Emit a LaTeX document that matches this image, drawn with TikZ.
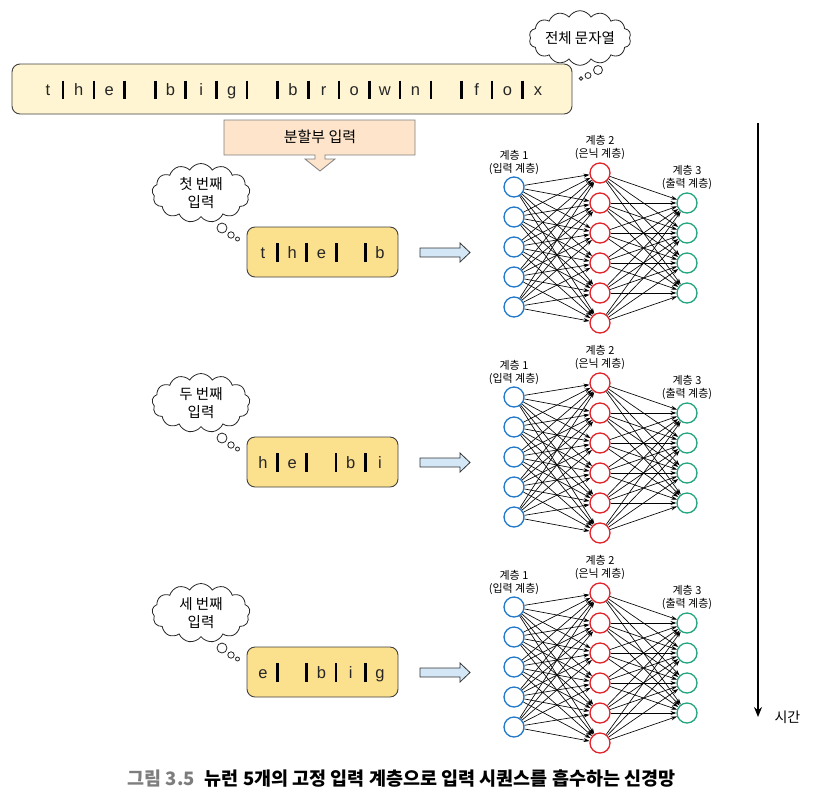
\documentclass[tikz,border=0pt]{standalone}
\usepackage{fontspec}
\setmainfont{Noto Sans CJK KR}
\newfontfamily\latinfont{Liberation Sans}
\usetikzlibrary{arrows.meta,shapes.symbols,positioning}

\definecolor{barfill}{HTML}{FFF5D2}
\definecolor{boxfill}{HTML}{FBE08D}
\definecolor{splitfill}{HTML}{FDE4CB}
\definecolor{hollowfill}{HTML}{D3E7F7}
\definecolor{inblue}{HTML}{1F78C8}
\definecolor{hidred}{HTML}{E2232A}
\definecolor{outgreen}{HTML}{22A47E}
\definecolor{capgray}{HTML}{7D7D7D}

\tikzset{
  seqbox/.style={draw=black!75, rounded corners=8pt, line width=0.9pt},
  letter/.style={font=\latinfont\fontsize{16.5}{18}\selectfont, text=black!85, anchor=base, inner sep=0pt},
  thought/.style={cloud, cloud puffs=13, cloud puff arc=120, draw=black!85, line width=0.8pt,
    fill=white, align=center, inner sep=0pt},
  bubble/.style={draw=black!85, line width=0.8pt, fill=white},
  neuron/.style={circle, minimum size=20pt, inner sep=0pt, line width=1.3pt, fill=white},
  synapse/.style={-{Stealth[length=6pt,width=4pt]}, line width=0.65pt},
  layerlabel/.style={font=\fontsize{11}{13}\selectfont, align=center, inner sep=0pt},
}

\begin{document}
\begin{tikzpicture}[x=1pt,y=-1pt]
  \useasboundingbox (0,0) rectangle (813,801);

  % the whole string
  \node[seqbox, fill=barfill, minimum width=560pt, minimum height=50pt] (sentence) at (292,89) {};
  \foreach \ch/\k in {t/0,h/1,e/2,b/4,i/5,g/6,b/8,r/9,o/10,w/11,n/12,f/14,o/15,x/16}
    \node[letter] (s-\k) at (48+30.625*\k,95) {\ch};
  \foreach \k/\w in {0/1.8,1/1.5,2/3,3/3,4/3,5/2.6,6/1.6,7/2.8,8/2.6,9/2.6,10/2.8,11/2.4,12/1.6,13/2.8,14/2.6,15/2.8}
    \draw[line width=\w pt] (63.3+30.625*\k,80.5) -- +(0,18);

  \node[thought, aspect=2.3, cloud puffs=14, minimum width=100pt, minimum height=45pt, font=\fontsize{14.5}{17}\selectfont] (whole) at (580,38) {전체 문자열};
  \draw[bubble] (598,70) circle[radius=4.5];
  \draw[bubble] (588,75.5) circle[radius=3];
  \draw[bubble] (581,78.5) circle[radius=1.8];

  % splitter
  \draw[draw=black!50, line width=0.8pt, fill=splitfill]
    (224,120) -- (415,120) -- (415,155) -- (325,155) -- (325,159) -- (335,159) -- (320,171)
    -- (305,159) -- (315,159) -- (315,155) -- (224,155) -- cycle;
  \node[font=\fontsize{15}{17}\selectfont] (split) at (320,137) {분할부 입력};

  % three windows
  \foreach \r/\first/\dy/\chars/\bars in {
      1/첫/0/{t/0,h/1,e/2,b/4}/{0/3,1/3,2/3,3/3},
      2/두/210/{h/0,e/1,b/3,i/4}/{0/3,1/3,2/1.8,3/3},
      3/세/420/{e/0,b/2,i/3,g/4}/{0/3,1/3,2/1.8,3/3}} {
    \node[thought, aspect=1.6, minimum width=98pt, minimum height=59pt, font=\fontsize{14.5}{18}\selectfont] (cl-\r) at (201,193+\dy) {\first\ 번째\\입력};
    \draw[bubble] (222,228+\dy) circle[radius=5];
    \draw[bubble] (231,235+\dy) circle[radius=3.2];
    \draw[bubble] (237.5,239+\dy) circle[radius=2];

    \node[seqbox, fill=boxfill, minimum width=151pt, minimum height=50pt] (win-\r) at (322.5,252+\dy) {};
    \foreach \ch/\k in \chars
      \node[letter] (w-\r-\k) at (263+29.25*\k,258.5+\dy) {\ch};
    \foreach \k/\w in \bars
      \draw[line width=\w pt] (277.6+29.25*\k,243+\dy) -- +(0,19);

    \draw[draw=black!80, line width=0.8pt, fill=hollowfill]
      (420,248+\dy) -- (460,248+\dy) -- (460,243+\dy) -- (470,252.5+\dy)
      -- (460,262+\dy) -- (460,257+\dy) -- (420,257+\dy) -- cycle;

    % network
    \foreach \i in {1,...,5}
      \node[neuron, draw=inblue] (l1-\r-\i) at (514,157+30*\i+\dy) {};
    \foreach \j in {1,...,6}
      \node[neuron, draw=hidred] (l2-\r-\j) at (600,143+30*\j+\dy) {};
    \foreach \k in {1,...,4}
      \node[neuron, draw=outgreen] (l3-\r-\k) at (687,173+30*\k+\dy) {};
    \foreach \i in {1,...,5}
      \foreach \j in {1,...,6}
        \draw[synapse] (l1-\r-\i) -- (l2-\r-\j);
    \foreach \j in {1,...,6}
      \foreach \k in {1,...,4}
        \draw[synapse] (l2-\r-\j) -- (l3-\r-\k);

    \node[layerlabel, above=2pt of l1-\r-1] (lab1-\r) {계층 1\\(입력 계층)};
    \node[layerlabel, above=3pt of l2-\r-1] (lab2-\r) {계층 2\\(은닉 계층)};
    \node[layerlabel, above=3pt of l3-\r-1] (lab3-\r) {계층 3\\(출력 계층)};
  }

  % time axis
  \coordinate (tstart) at (758,123);
  \coordinate (tend) at (758,717);
  \draw[-{Stealth[length=10pt,width=8pt]}, line width=1.4pt] (tstart) -- (tend);
  \node[font=\fontsize{14}{16}\selectfont, anchor=west] (timelabel) at (771,717) {시간};

  \node[anchor=west, font=\fontsize{18.5}{20}\selectfont\bfseries] (caption) at (124,779)
    {{\color{capgray}그림 3.5}\hspace{10pt}뉴런 5개의 고정 입력 계층으로 입력 시퀀스를 흡수하는 신경망};
\end{tikzpicture}
\end{document}
